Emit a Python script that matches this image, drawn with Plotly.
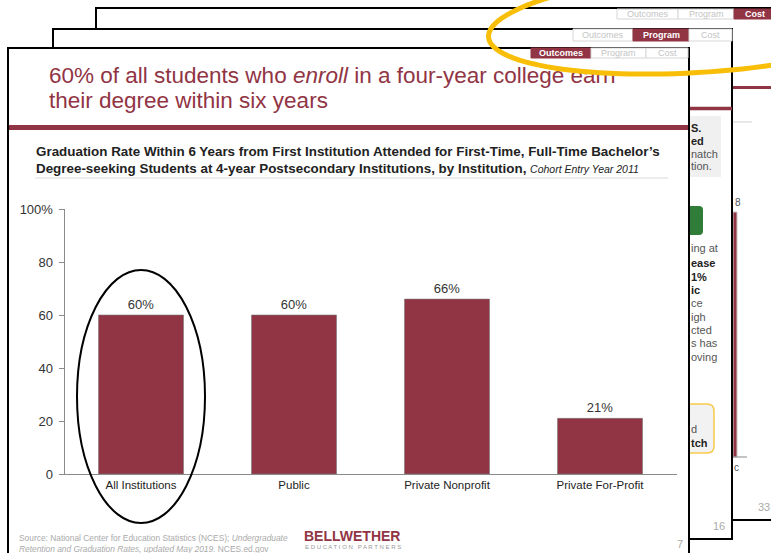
import math
import plotly.graph_objects as go

W, H = 771, 553

# ---- data ----
categories = ["All Institutions", "Public", "Private Nonprofit", "Private For-Profit"]
grad_rate = [60, 60, 66, 21]
y_tickvals = [0, 20, 40, 60, 80, 100]
y_ticktext = ["0", "20", "40", "60", "80", "100%"]

title_lines = ["60% of all students who <i>enroll</i> in a four-year college earn",
               "their degree within six years"]
chart_title_1 = "Graduation Rate Within 6 Years from First Institution Attended for First-Time, Full-Time Bachelor\u2019s"
chart_title_2 = ("Degree-seeking Students at 4-year Postsecondary Institutions, by Institution, "
                 "<span style='font-weight:normal;font-size:10.5px'><i>Cohort Entry Year 2011</i></span>")
source_1 = "Source: National Center for Education Statistics (NCES); <i>Undergraduate</i>"
source_2 = "<i>Retention and Graduation Rates, updated May 2019.</i> NCES.ed.gov"

MAROON = "#913444"
FONT = "Liberation Sans, Arial, sans-serif"


def X(px):
    return px / W


def Y(py):
    return 1 - py / H


shapes = []


def rect(x0, y0, x1, y1, fill="white", line="black", lw=2, layer="below"):
    shapes.append(dict(type="rect", xref="paper", yref="paper",
                       x0=X(x0), x1=X(x1), y0=Y(y1), y1=Y(y0),
                       fillcolor=fill, line=dict(color=line, width=lw), layer=layer))


def rrect(x0, y0, x1, y1, r, fill, line, lw):
    def p(x, y):
        return f"{X(x):.5f},{Y(y):.5f}"
    path = (f"M {p(x0, y0)} L {p(x1 - r, y0)} Q {p(x1, y0)} {p(x1, y0 + r)} "
            f"L {p(x1, y1 - r)} Q {p(x1, y1)} {p(x1 - r, y1)} L {p(x0, y1)} Z")
    shapes.append(dict(type="path", xref="paper", yref="paper", path=path,
                       fillcolor=fill, line=dict(color=line, width=lw), layer="below"))


def hline(x0, x1, y, color, lw, layer="below"):
    shapes.append(dict(type="line", xref="paper", yref="paper",
                       x0=X(x0), x1=X(x1), y0=Y(y), y1=Y(y),
                       line=dict(color=color, width=lw), layer=layer))


def tilted_ellipse(cx, cy, a, b, deg, color, lw):
    th = math.radians(deg)
    pts = []
    n = 120
    for i in range(n):
        t = 2 * math.pi * i / n
        x = cx + a * math.cos(t) * math.cos(th) - b * math.sin(t) * math.sin(th)
        y = cy + a * math.cos(t) * math.sin(th) + b * math.sin(t) * math.cos(th)
        pts.append(f"{X(x):.5f},{Y(y):.5f}")
    path = "M " + " L ".join(pts) + " Z"
    shapes.append(dict(type="path", xref="paper", yref="paper", path=path,
                       line=dict(color=color, width=lw), layer="above"))


annotations = []


def text(x, y, s, size=11, color="#333", xanchor="left", bold=False, family=FONT):
    if bold:
        s = f"<b>{s}</b>"
    annotations.append(dict(xref="paper", yref="paper", x=X(x), y=Y(y), text=s,
                            showarrow=False, xanchor=xanchor, yanchor="middle",
                            font=dict(size=size, color=color, family=family)))


def tabs(y0, y1, xs, labels, active):
    for i, lab in enumerate(labels):
        a, b = xs[i], xs[i + 1]
        if i == active:
            rect(a, y0, b, y1, fill=MAROON, line=MAROON, lw=1)
        else:
            rect(a, y0, b, y1, fill="white", line="#d6d6d6", lw=1)
    for i, lab in enumerate(labels):
        a, b = xs[i], xs[i + 1]
        if i == active:
            text((a + b) / 2, (y0 + y1) / 2, lab, size=9, color="white", xanchor="center", bold=True)
        else:
            text((a + b) / 2, (y0 + y1) / 2, lab, size=9, color="#c4c4c4", xanchor="center")


tab_labels = ["Outcomes", "Program", "Cost"]

# ---- slide 3 (back) ----
rect(96, 8, 790, 520)
hline(96, 790, 87.5, MAROON, 3)
tabs(9, 19, [617, 678, 734, 776], tab_labels, 2)
hline(733, 752, 122, "#e0e0e0", 1.5)
rect(733, 212, 737, 457, fill=MAROON, line="#c9c9c9", lw=1)
hline(733, 747, 457, "#888", 1)

# ---- slide 2 (middle) ----
rect(53, 29, 732, 539)
tabs(29, 41, [573, 633, 689, 732], tab_labels, 1)
hline(53, 732, 108.5, MAROON, 3.5)
rect(689, 116, 721, 177, fill="#f0f0f0", line="#f0f0f0", lw=0)
rrect(684, 206, 703, 235, 4, "#2f7d38", "#2f7d38", 0)
rrect(684, 404, 714, 453, 7, "#f2f2f2", "#f7c94a", 1.5)

# ---- slide 1 (front) ----
rect(8, 48, 689, 570)
tabs(48, 58, [531, 591, 646, 688], tab_labels, 0)
shapes.append(dict(type="rect", xref="paper", yref="paper", x0=X(9), x1=X(688),
                   y0=Y(130), y1=Y(125), fillcolor=MAROON, line=dict(width=0), layer="below"))
hline(35, 668, 178, "#dcdcdc", 1.2)

# ---- highlight ellipses ----
shapes.append(dict(type="circle", xref="paper", yref="paper", x0=X(77), x1=X(205),
                   y0=Y(523), y1=Y(270), line=dict(color="black", width=2), layer="above"))
tilted_ellipse(705, 22, 217, 50, -4, "#F8BE08", 5)

# ---- texts on the back slides ----
for s, yy, b in [("S.", 128, True), ("ed", 141, True), ("natch", 154, False), ("tion.", 166, False)]:
    text(689, yy, s, size=11, color="#222" if b else "#555", bold=b)
for s, yy, b in [("ing at", 248, False), ("ease", 263, True), ("1%", 277, True), ("ic", 290, True),
                 ("ce", 303, False), ("igh", 317, False), ("cted", 330, False), ("s has", 343, False),
                 ("oving", 357, False)]:
    text(689, yy, s, size=11, color="#222" if b else "#555", bold=b)
text(689, 429, "d", size=11, color="#555")
text(689, 443, "tch", size=11, color="#222", bold=True)
text(733, 203, "8", size=10, color="#555")
text(732, 467, "c", size=10, color="#555")
text(764, 507, "33", size=11, color="#aaa", xanchor="center")
text(719, 526, "16", size=11, color="#aaa", xanchor="center")
text(680, 544, "7", size=11, color="#aaa", xanchor="center")

# ---- slide 1 texts ----
text(34, 151, chart_title_1, size=13.4, color="#222", bold=True)
text(34, 168, chart_title_2, size=13.4, color="#222", bold=True)
text(17, 538, source_1, size=8.4, color="#aaa")
text(17, 549, source_2, size=8.4, color="#aaa")
text(302, 536, "BELLWETHER", size=14, color=MAROON, bold=True, family="Liberation Sans, Arial")
text(303, 546.5, "E D U C A T I O N   P A R T N E R S", size=6, color="#999")

fig = go.Figure()
fig.add_trace(go.Bar(
    x=categories, y=grad_rate, marker=dict(color=MAROON, line=dict(color="#7a7a7a", width=0.6)),
    texttemplate="%{y}%", textposition="outside", cliponaxis=False,
    textfont=dict(size=13, color="#333", family=FONT), hoverinfo="skip", width=0.556))

# slide title as a text trace on a full-page overlay axis so the yellow ring crosses it
fig.add_trace(go.Scatter(
    x=[49, 49], y=[77, 102], text=title_lines, mode="text", textposition="middle right",
    textfont=dict(size=22.5, color=MAROON, family=FONT), xaxis="x2", yaxis="y2",
    hoverinfo="skip", showlegend=False, cliponaxis=False))

fig.update_layout(
    width=W, height=H, margin=dict(l=0, r=0, t=0, b=0, pad=0, autoexpand=False),
    paper_bgcolor="white", plot_bgcolor="rgba(0,0,0,0)",
    showlegend=False, bargap=0.444,
    font=dict(family=FONT, color="#333"),
    shapes=shapes, annotations=annotations,
    xaxis=dict(domain=[X(64.5), X(676.5)], showline=True, linecolor="#8a8a8a", linewidth=1,
               ticks="", tickfont=dict(size=11.5, color="#222"), fixedrange=True, anchor="y",
               automargin=False),
    yaxis=dict(domain=[Y(474), Y(209)], range=[0, 100], showline=True, linecolor="#8a8a8a",
               linewidth=1, ticks="outside", ticklen=5, tickcolor="#8a8a8a", showgrid=False,
               zeroline=False, tickvals=y_tickvals, ticktext=y_ticktext, ticklabelstandoff=3,
               tickfont=dict(size=13, color="#333"), fixedrange=True, anchor="x", automargin=False),
    xaxis2=dict(domain=[0, 1], range=[0, W], visible=False, anchor="y2", fixedrange=True,
                automargin=False),
    yaxis2=dict(domain=[0, 1], range=[H, 0], visible=False, anchor="x2", fixedrange=True,
                automargin=False),
)

fig.write_html("out.html")
